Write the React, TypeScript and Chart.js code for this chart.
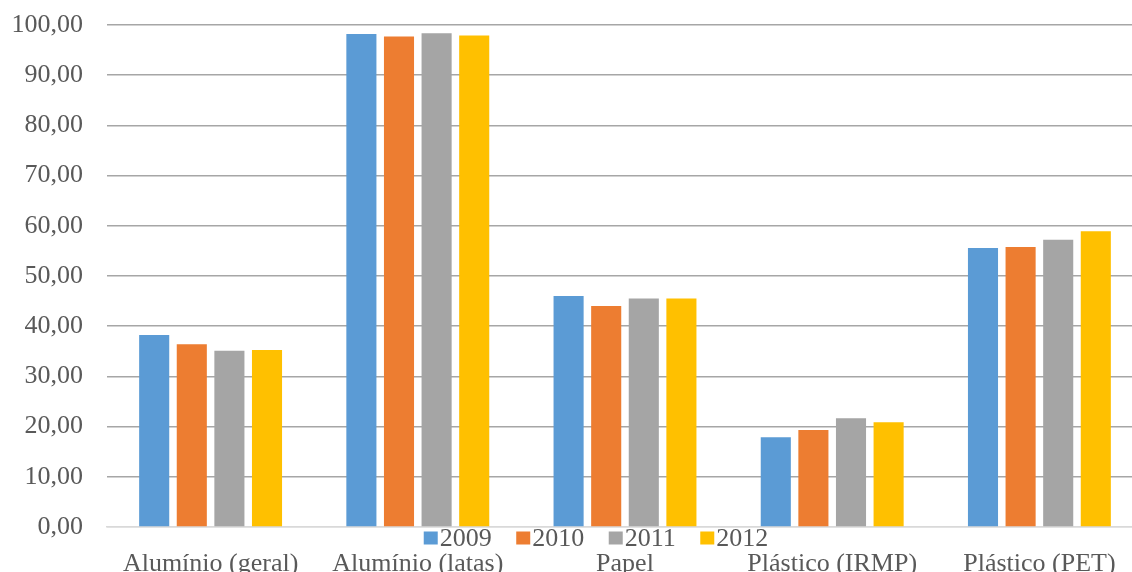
import React, { useEffect, useRef } from "react";
import { Chart, registerables } from "chart.js";

Chart.register(...registerables);

const categories = [
  "Alumínio (geral)",
  "Alumínio (latas)",
  "Papel",
  "Plástico (IRMP)",
  "Plástico (PET)",
];
const seriesLabels = ["2009", "2010", "2011", "2012"];
const values2009 = [38.25, 98.2, 46.0, 17.9, 55.6];
const values2010 = [36.4, 97.7, 44.0, 19.3, 55.8];
const values2011 = [35.1, 98.35, 45.5, 21.65, 57.2];
const values2012 = [35.25, 97.9, 45.5, 20.85, 58.9];
const yTicks = [0, 10, 20, 30, 40, 50, 60, 70, 80, 90, 100];

const COLORS = ["#5b9bd5", "#ed7d31", "#a5a5a5", "#ffc000"];
const TEXT = "#595959";
const FONT = '"Liberation Serif", "Times New Roman", serif';
const FONT_SIZE = 26;

const legendPlugin = {
  id: "customLegend",
  afterDraw(chart: any) {
    const ctx = chart.ctx as CanvasRenderingContext2D;
    ctx.save();
    ctx.font = `${FONT_SIZE}px ${FONT}`;
    ctx.textBaseline = "middle";
    const items = chart.data.datasets.map((ds: any) => ({
      label: ds.label as string,
      color: ds.backgroundColor as string,
      w: ctx.measureText(ds.label).width,
    }));
    const box = 14;
    const boxH = 13;
    const gap = 2;
    const spacing = 24.5;
    const total =
      items.reduce((s: number, it: any) => s + box + gap + it.w, 0) +
      spacing * (items.length - 1);
    let x = 596 - total / 2;
    const y = 538;
    items.forEach((it: any) => {
      ctx.fillStyle = it.color;
      ctx.fillRect(x, y - boxH / 2, box, boxH);
      ctx.fillStyle = TEXT;
      ctx.fillText(it.label, x + box + gap, y + 1);
      x += box + gap + it.w + spacing;
    });
    ctx.restore();
  },
};

export default function App() {
  const canvasRef = useRef<HTMLCanvasElement | null>(null);

  useEffect(() => {
    if (!canvasRef.current) return;
    const seriesValues = [values2009, values2010, values2011, values2012];
    const chart = new Chart(canvasRef.current, {
      type: "bar",
      data: {
        labels: categories,
        datasets: seriesLabels.map((label, i) => ({
          label,
          data: seriesValues[i],
          backgroundColor: COLORS[i],
          borderWidth: 0,
          categoryPercentage: 0.726,
          barPercentage: 0.8,
        })),
      },
      options: {
        responsive: false,
        animation: false,
        layout: { padding: { top: 25, left: 0, right: 0, bottom: 0 } },
        plugins: {
          legend: { display: false },
          tooltip: { enabled: false },
        },
        scales: {
          x: {
            grid: { display: false },
            border: { display: true, color: "#d9d9d9", width: 1.5 },
            ticks: {
              color: TEXT,
              font: { family: FONT, size: FONT_SIZE },
              padding: 14,
              maxRotation: 0,
              autoSkip: false,
            },
            afterFit: (scale: any) => {
              scale.height = 45;
              scale.paddingLeft = 0;
              scale.paddingRight = 0;
            },
          },
          y: {
            min: 0,
            max: 100,
            afterBuildTicks: (scale: any) => {
              scale.ticks = yTicks.map((v) => ({ value: v }));
            },
            grid: {
              color: (ctx: any) =>
                ctx.tick && ctx.tick.value === 0 ? "#d9d9d9" : "#a6a6a6",
              lineWidth: 1.5,
              drawTicks: false,
            },
            border: { display: false },
            ticks: {
              color: TEXT,
              font: { family: FONT, size: FONT_SIZE },
              padding: 24,
              callback: (v: any) => Number(v).toFixed(2).replace(".", ","),
            },
            afterFit: (scale: any) => {
              scale.width = 107;
              scale.paddingTop = 0;
              scale.paddingBottom = 0;
            },
          },
        },
      },
      plugins: [legendPlugin],
    });
    return () => chart.destroy();
  }, []);

  return (
    <div
      style={{
        position: "absolute",
        left: 0,
        top: 0,
        width: 1132,
        height: 572,
        overflow: "hidden",
        background: "#ffffff",
      }}
    >
      <canvas ref={canvasRef} width={1143} height={572} />
    </div>
  );
}
